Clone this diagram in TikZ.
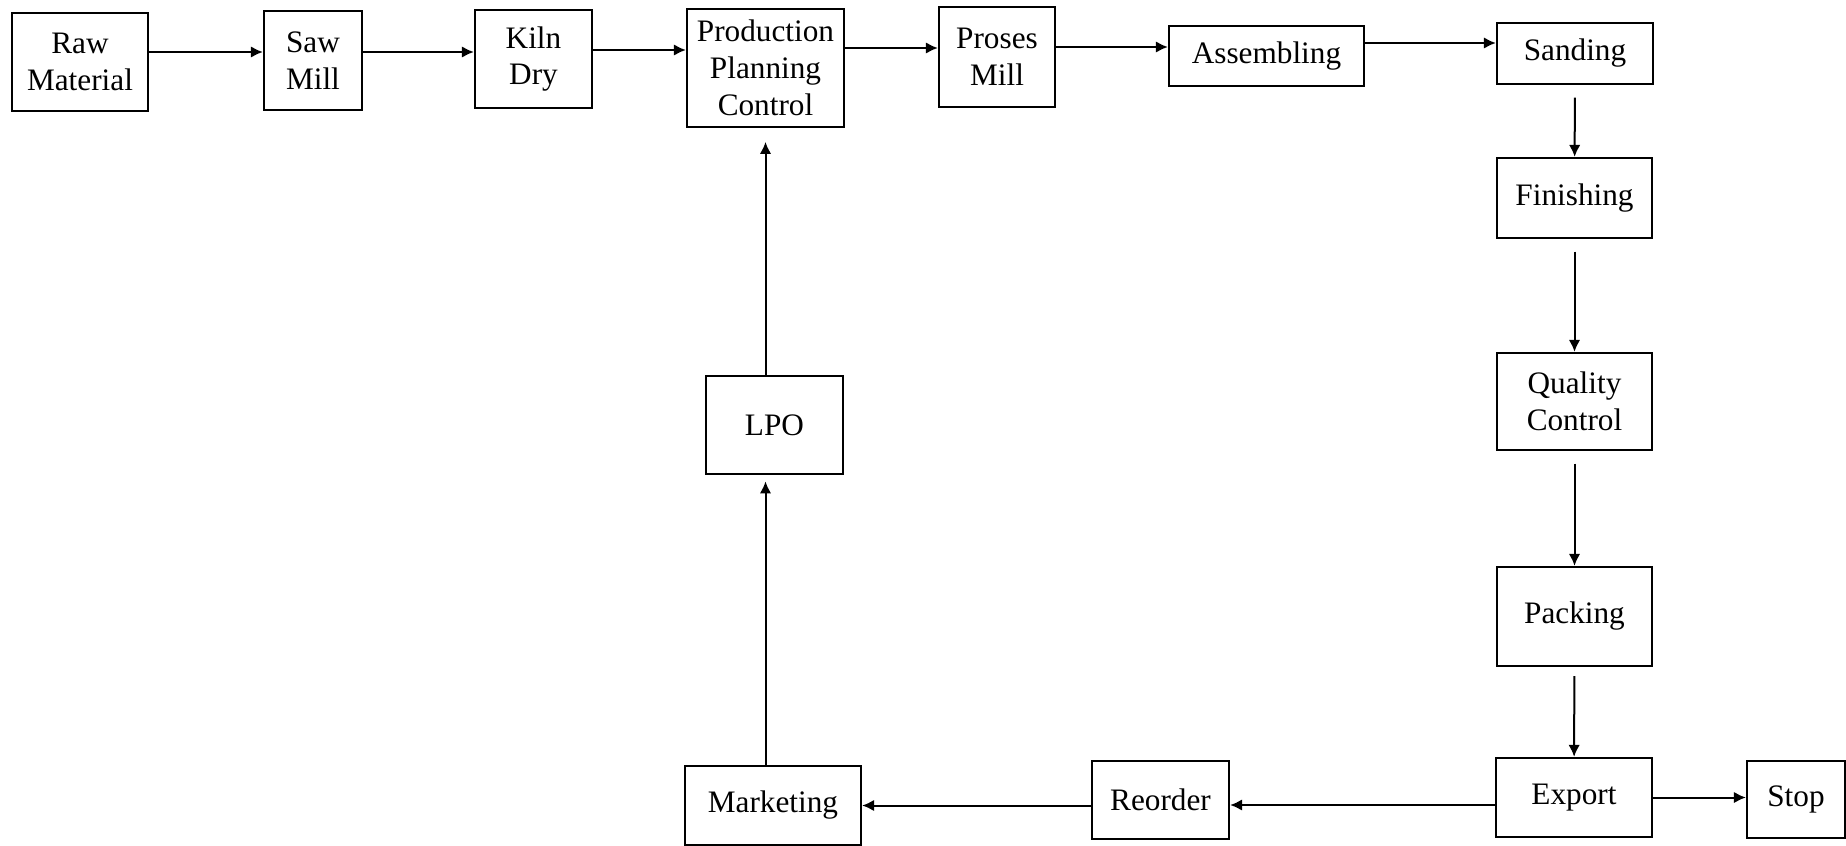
\documentclass[tikz,border=0pt]{standalone}
\usepackage{fontspec}
\setmainfont{Liberation Serif}
\usetikzlibrary{arrows.meta,positioning,calc}
\tikzset{
    stage/.style={
        draw,
        line width=0.9pt,
        align=center,
        inner sep=0pt,
        font=\fontsize{12.5}{14.7}\selectfont
    },
    arrow/.style={
        -{Latex[length=4.8pt,width=4.6pt]},
        line width=0.8pt
    },
    gaparrow/.style={
        arrow,
        shorten <=5pt
    }
}

\begin{document}
\begin{tikzpicture}[x=0.4pt, y=-0.4pt]

\useasboundingbox (0,0) rectangle (1846,846);

% top row
\node[stage, minimum width=54.4pt, minimum height=39.2pt] (raw) at (80,62) {Raw\\Material};
\node[stage, minimum width=39.2pt, minimum height=39.6pt] (saw) at (313,60.5) {Saw\\Mill};
\node[stage, minimum width=46.8pt, minimum height=39.2pt] (kiln) at (533.5,59) {Kiln\\Dry};
\node[stage, minimum width=62.8pt, minimum height=47.2pt] (ppc) at (765.5,68) {Production\\Planning\\Control};
\node[stage, minimum width=46.4pt, minimum height=40pt] (proses) at (997,57) {Proses\\Mill};
\node[stage, minimum width=78pt, minimum height=24pt] (assem) at (1266.5,56) {Assembling};
\node[stage, minimum width=62.4pt, minimum height=24.4pt] (sand) at (1575,53.5) {Sanding};

% right column
\node[stage, minimum width=62pt, minimum height=32pt] (finish) at (1574.5,198) {Finishing};
\node[stage, minimum width=62pt, minimum height=38.8pt] (qc) at (1574.5,401.5) {Quality\\Control};
\node[stage, minimum width=62pt, minimum height=39.6pt] (pack) at (1574.5,616.5) {Packing};
\node[stage, minimum width=62.4pt, minimum height=31.6pt] (export) at (1574,797.5) {Export};
\node[stage, minimum width=39.2pt, minimum height=30.8pt] (stop) at (1796,799.5) {Stop};

% bottom row and feedback
\node[stage, minimum width=54.8pt, minimum height=31.2pt] (reorder) at (1160.5,800) {Reorder};
\node[stage, minimum width=70.4pt, minimum height=31.6pt] (market) at (773,805.5) {Marketing};
\node[stage, minimum width=54.8pt, minimum height=39.2pt] (lpo) at (774.5,425) {LPO};

\draw[arrow] ([yshift=4pt]raw.east) -- ([yshift=4pt]raw.east -| saw.west);
\draw[arrow] ([yshift=3.4pt]saw.east) -- ([yshift=3.4pt]saw.east -| kiln.west);
\draw[arrow] ([yshift=3.6pt]kiln.east) -- ([yshift=3.6pt]kiln.east -| ppc.west);
\draw[arrow] ([yshift=8pt]ppc.east) -- ([yshift=8pt]ppc.east -| proses.west);
\draw[arrow] ([yshift=4pt]proses.east) -- ([yshift=4pt]proses.east -| assem.west);
\draw[arrow] ([yshift=5.2pt]assem.east) -- ([yshift=5.2pt]assem.east -| sand.west);

\draw[gaparrow] (sand) -- (finish);
\draw[gaparrow] (finish) -- (qc);
\draw[gaparrow] (qc) -- (pack);
\draw[gaparrow, shorten <=3.6pt] (pack) -- (export);

\draw[arrow] (export.east) -- (export.east -| stop.west);
\draw[arrow] ([yshift=-3pt]export.west) -- ([yshift=-3pt]export.west -| reorder.east);
\draw[arrow] (market.east -| reorder.west) -- (market.east);
\draw[arrow, shorten >=2.5pt] (market.north -| ppc.south) -- (lpo.south -| ppc.south);
\draw[arrow, shorten >=5.5pt] (lpo.north -| ppc.south) -- (ppc.south);

\end{tikzpicture}
\end{document}
